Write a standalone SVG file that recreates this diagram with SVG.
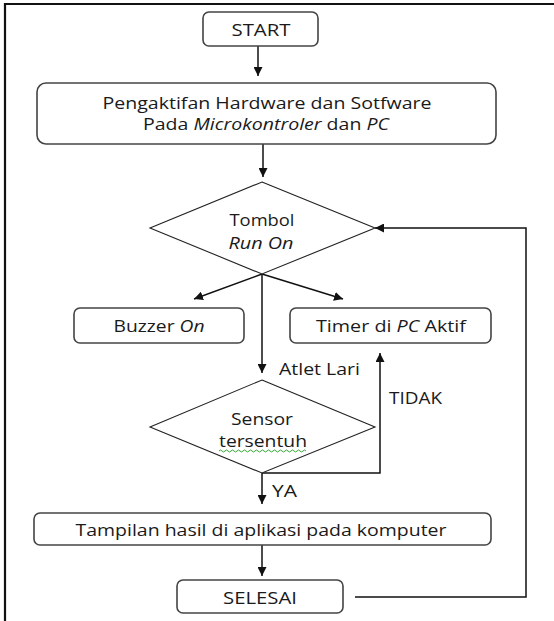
<svg xmlns="http://www.w3.org/2000/svg" width="554" height="621" viewBox="0 0 554 621">
<style>
.box{fill:#fff;stroke:#444;stroke-width:1.6}
.dia{fill:#fff;stroke:#222;stroke-width:1.1}
.t{font-family:"Open Sans","Liberation Sans",sans-serif;font-size:16.5px;fill:#1a1a1a;text-anchor:middle;dominant-baseline:central}
.l{text-anchor:start}
.i{font-style:italic}
.c{fill:none;stroke:#111;stroke-width:1.5}
</style>
<defs>
<marker id="ah" viewBox="0 0 10 10" refX="10" refY="5" markerWidth="9" markerHeight="9" markerUnits="userSpaceOnUse" orient="auto">
<path d="M0,0 L10,5 L0,10 z" fill="#111"/>
</marker>
</defs>
<rect width="554" height="621" fill="#fff"/>
<path d="M5,621 V4 H554" fill="none" stroke="#111" stroke-width="2.2"/>

<g id="connectors">
<line class="c" x1="258" y1="46" x2="258" y2="76" marker-end="url(#ah)"/>
<line class="c" x1="263" y1="144" x2="263" y2="177" marker-end="url(#ah)"/>
<line class="c" x1="262" y1="274" x2="194" y2="299" marker-end="url(#ah)"/>
<line class="c" x1="262" y1="274" x2="343" y2="299" marker-end="url(#ah)"/>
<line class="c" x1="262" y1="274" x2="262" y2="373" marker-end="url(#ah)"/>
<polyline class="c" points="262,473 380,473 380,353" marker-end="url(#ah)"/>
<line class="c" x1="262" y1="473" x2="262" y2="504" marker-end="url(#ah)"/>
<line class="c" x1="262" y1="545" x2="262" y2="576" marker-end="url(#ah)"/>
<polyline class="c" points="355,597 526,597 526,228 375,228" marker-end="url(#ah)"/>
<text class="t l" x="279" y="368" textLength="81" lengthAdjust="spacingAndGlyphs">Atlet Lari</text>
<text class="t l" x="389" y="397" textLength="53" lengthAdjust="spacingAndGlyphs">TIDAK</text>
<text class="t l" x="272" y="490" textLength="25" lengthAdjust="spacingAndGlyphs">YA</text>
</g>

<g id="start">
<rect class="box" x="203" y="12" width="115" height="34" rx="6"/>
<text class="t" x="261" y="29" textLength="59" lengthAdjust="spacingAndGlyphs">START</text>
</g>

<g id="pengaktifan">
<rect class="box" x="37" y="83" width="459" height="61" rx="9"/>
<text class="t" x="267" y="102" textLength="329" lengthAdjust="spacingAndGlyphs">Pengaktifan Hardware dan Sotfware</text>
<text class="t" x="266" y="123" textLength="246" lengthAdjust="spacingAndGlyphs">Pada <tspan class="i">Microkontroler</tspan> dan <tspan class="i">PC</tspan></text>
</g>

<g id="tombol">
<polygon class="dia" points="262,182 375,228 262,274 150,228"/>
<text class="t" x="262" y="219" textLength="65" lengthAdjust="spacingAndGlyphs">Tombol</text>
<text class="t i" x="261" y="242" textLength="65" lengthAdjust="spacingAndGlyphs">Run On</text>
</g>

<g id="buzzer">
<rect class="box" x="74" y="308" width="170" height="35" rx="6"/>
<text class="t" x="159" y="325" textLength="91" lengthAdjust="spacingAndGlyphs">Buzzer <tspan class="i">On</tspan></text>
</g>

<g id="timer">
<rect class="box" x="290" y="308" width="201" height="35" rx="6"/>
<text class="t" x="391" y="325" textLength="150" lengthAdjust="spacingAndGlyphs">Timer di <tspan class="i">PC</tspan> Aktif</text>
</g>

<g id="sensor">
<polygon class="dia" points="262,380 375,427 262,473 150,427"/>
<text class="t" x="262" y="418" textLength="62" lengthAdjust="spacingAndGlyphs">Sensor</text>
<text class="t" x="263" y="440" textLength="88" lengthAdjust="spacingAndGlyphs">tersentuh</text>
<path d="M219,451 q1.5,-2 3,0 t3,0 t3,0 t3,0 t3,0 t3,0 t3,0 t3,0 t3,0 t3,0 t3,0 t3,0 t3,0 t3,0 t3,0 t3,0 t3,0 t3,0 t3,0 t3,0 t3,0 t3,0 t3,0 t3,0 t3,0 t3,0 t3,0 t3,0 t3,0" fill="none" stroke="#3a3" stroke-width="1"/>
</g>

<g id="tampilan">
<rect class="box" x="34" y="513" width="457" height="32" rx="6"/>
<text class="t" x="261" y="529" textLength="371" lengthAdjust="spacingAndGlyphs">Tampilan hasil di aplikasi pada komputer</text>
</g>

<g id="selesai">
<rect class="box" x="177" y="580" width="166" height="33" rx="6"/>
<text class="t" x="260" y="597" textLength="74" lengthAdjust="spacingAndGlyphs">SELESAI</text>
</g>
</svg>
